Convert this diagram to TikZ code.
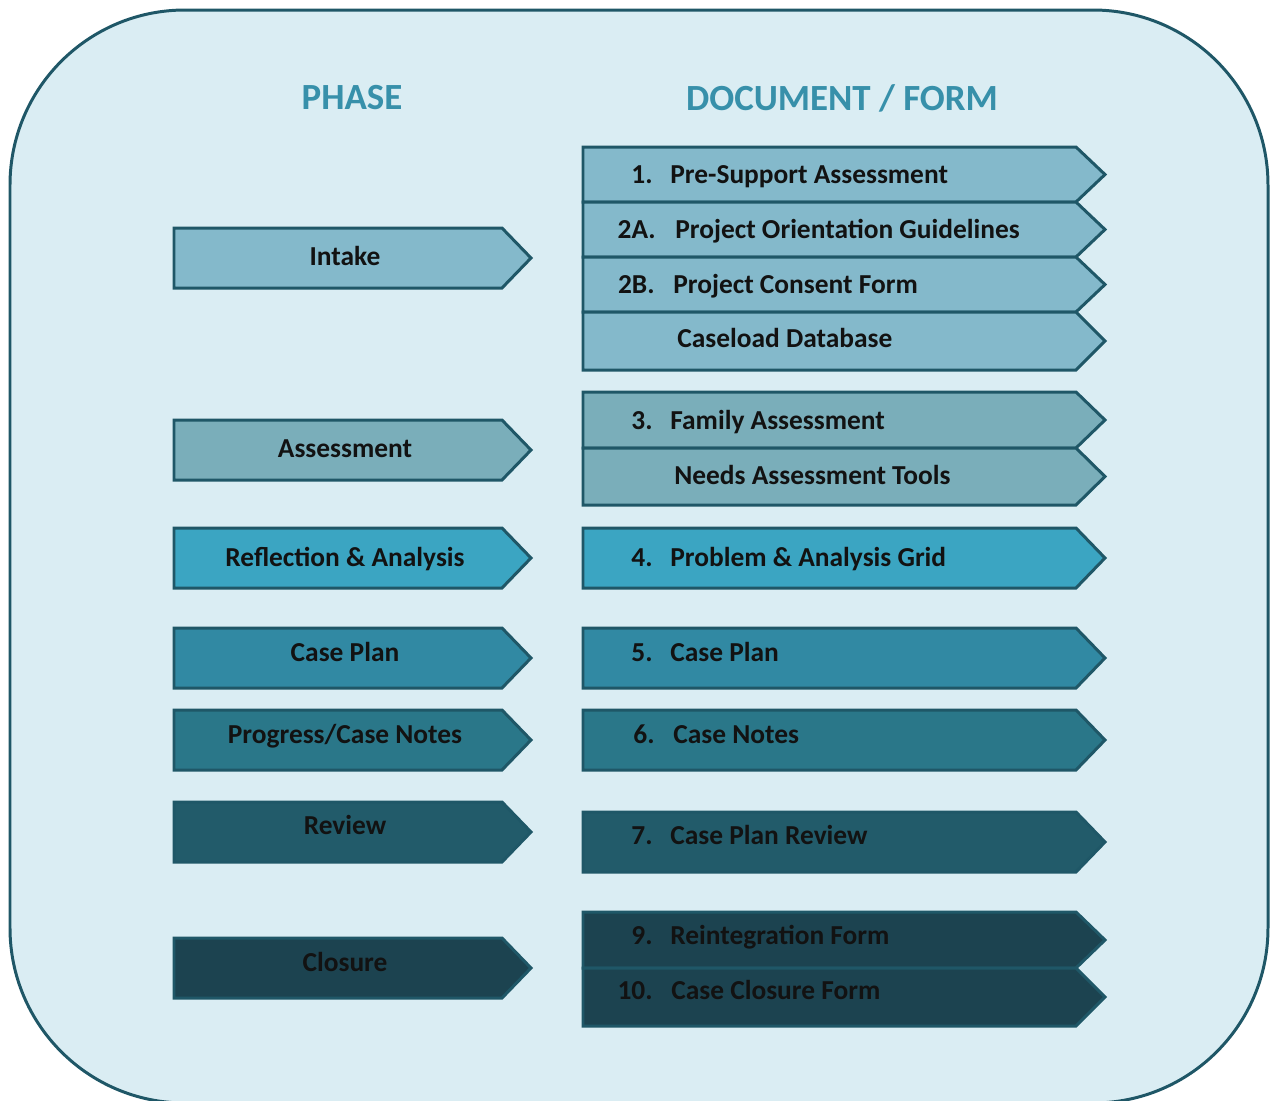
\documentclass[tikz,border=0pt]{standalone}
\usepackage{fontspec}
\setmainfont{Carlito}
\usepackage{tikz}
\usetikzlibrary{calc}

\definecolor{panel}{HTML}{DAEDF3}
\definecolor{edge}{HTML}{1F5767}
\definecolor{heading}{HTML}{3790AA}
\definecolor{cIntake}{HTML}{84B9CB}
\definecolor{cAssess}{HTML}{7AAEBA}
\definecolor{cReflect}{HTML}{3BA5C2}
\definecolor{cPlan}{HTML}{3189A3}
\definecolor{cNotes}{HTML}{2A7789}
\definecolor{cReview}{HTML}{225B6A}
\definecolor{cClose}{HTML}{1C4350}

% name, fill, left, tip, top, bottom
\newcommand{\arrowbox}[6]{%
  \draw[box, fill=#2] (#3,#5) -- ({#4-29},#5) -- (#4,{(#5+#6)/2})
    -- ({#4-29},#6) -- (#3,#6) -- cycle;
  \coordinate (#1) at ({(#3+#4)/2},{(#5+#6)/2});
}

\begin{document}
\begin{tikzpicture}[x=0.02cm, y=-0.02cm,
    box/.style={draw=edge, line width=1.7pt, line join=miter},
    head/.style={font=\bfseries\fontsize{21}{25}\selectfont, text=heading},
    lbl/.style={font=\bfseries\fontsize{15.6}{18}\selectfont, text=black!93,
      inner sep=0pt, anchor=base},
    num/.style={lbl, anchor=base east},
    doc/.style={lbl, anchor=base west}
  ]
  \useasboundingbox (0,0) rectangle (1276,1100);
  \clip (0,0) rectangle (1276,1100);
  \draw[draw=edge, line width=1.7pt, fill=panel, rounded corners=3.5cm]
    (10,10) rectangle (1268,1103);

  \node[head] (phasehd) at (352,98) {PHASE};
  \node[head] (dochd)   at (842,98) {DOCUMENT / FORM};

  % phases
  \arrowbox{intake}{cIntake}{174}{531}{228}{288}
  \arrowbox{assess}{cAssess}{174}{531}{420}{480}
  \arrowbox{reflect}{cReflect}{174}{531}{528}{588}
  \arrowbox{plan}{cPlan}{174}{531}{628}{688}
  \arrowbox{notes}{cNotes}{174}{531}{710}{770}
  \arrowbox{review}{cReview}{174}{531}{802}{862}
  \arrowbox{closure}{cClose}{174}{531}{938}{998}

  \node[lbl] (intake-t)  at (345,265) {Intake};
  \node[lbl] (assess-t)  at (345,457) {Assessment};
  \node[lbl] (reflect-t) at (345,566) {Reflection \& Analysis};
  \node[lbl] (plan-t)    at (345,661) {Case Plan};
  \node[lbl] (notes-t)   at (345,743) {Progress/Case Notes};
  \node[lbl] (review-t)  at (345,834) {Review};
  \node[lbl] (closure-t) at (345,971) {Closure};

  % documents
  \arrowbox{d1}{cIntake}{583}{1105}{147}{202}
  \arrowbox{d2a}{cIntake}{583}{1105}{202}{257}
  \arrowbox{d2b}{cIntake}{583}{1105}{257}{312}
  \arrowbox{dcl}{cIntake}{583}{1105}{312}{370}
  \arrowbox{d3}{cAssess}{583}{1105}{392}{448}
  \arrowbox{dna}{cAssess}{583}{1105}{448}{505}
  \arrowbox{d4}{cReflect}{583}{1105}{528}{588}
  \arrowbox{d5}{cPlan}{583}{1105}{628}{688}
  \arrowbox{d6}{cNotes}{583}{1105}{710}{770}
  \arrowbox{d7}{cReview}{583}{1105}{812}{872}
  \arrowbox{d9}{cClose}{583}{1105}{912}{968}
  \arrowbox{d10}{cClose}{583}{1105}{968}{1026}

  \node[num] (n1)  at (653,183) {1.};
  \node[doc] (t1)  at (670,183) {Pre-Support Assessment};
  \node[num] (n2a) at (656,238) {2A.};
  \node[doc] (t2a) at (675,238) {Project Orientation Guidelines};
  \node[num] (n2b) at (655,293) {2B.};
  \node[doc] (t2b) at (673,293) {Project Consent Form};
  \node[doc] (tcl) at (677,347) {Caseload Database};
  \node[num] (n3)  at (653,429) {3.};
  \node[doc] (t3)  at (670,429) {Family Assessment};
  \node[doc] (tna) at (674,484) {Needs Assessment Tools};
  \node[num] (n4)  at (653,566) {4.};
  \node[doc] (t4)  at (670,566) {Problem \& Analysis Grid};
  \node[num] (n5)  at (653,661) {5.};
  \node[doc] (t5)  at (670,661) {Case Plan};
  \node[num] (n6)  at (655,743) {6.};
  \node[doc] (t6)  at (673,743) {Case Notes};
  \node[num] (n7)  at (653,844) {7.};
  \node[doc] (t7)  at (670,844) {Case Plan Review};
  \node[num] (n9)  at (653,944) {9.};
  \node[doc] (t9)  at (670,944) {Reintegration Form};
  \node[num] (n10) at (653,999) {10.};
  \node[doc] (t10) at (671,999) {Case Closure Form};
\end{tikzpicture}
\end{document}
